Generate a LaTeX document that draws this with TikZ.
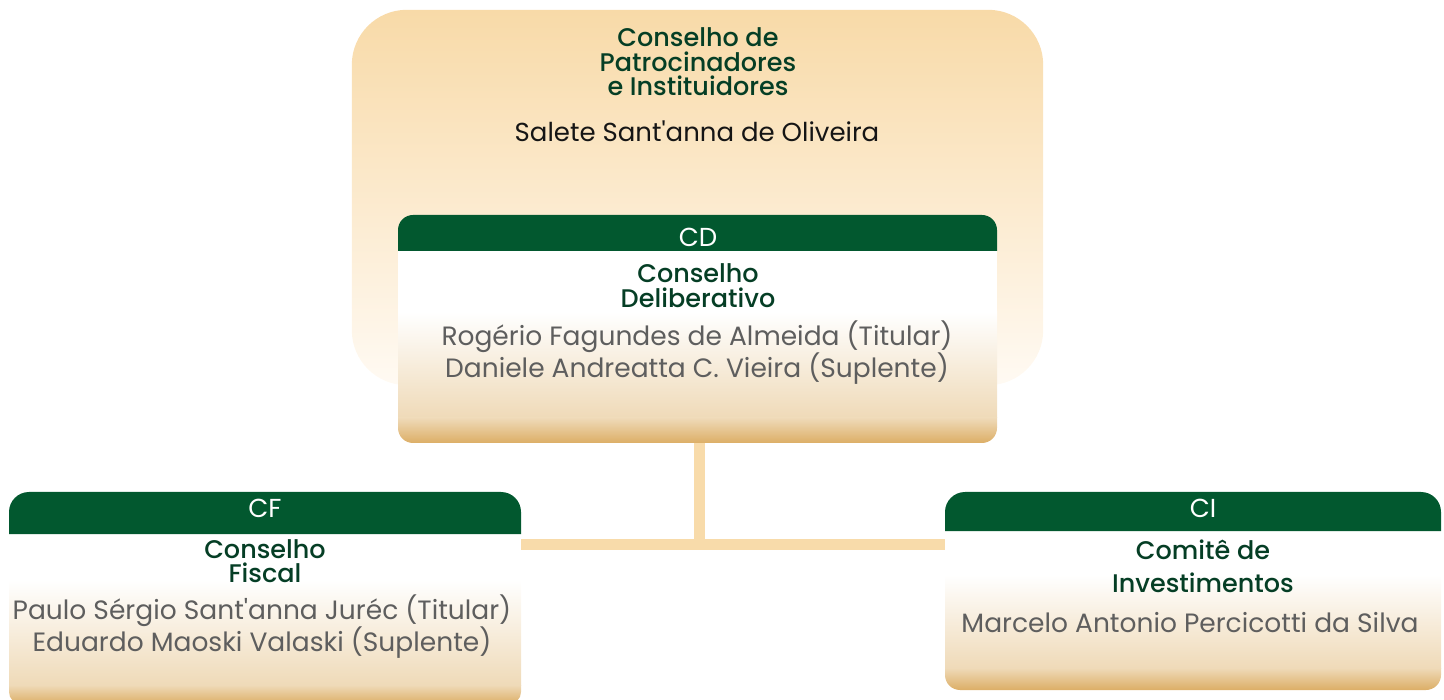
\documentclass[tikz,border=0pt]{standalone}
\usepackage{fontspec}
\setmainfont{Poppins}
\newfontfamily\medfont{Poppins Medium}
\newfontfamily\aposfont{Poppins}[Ligatures=TeXOff]
\newcommand{\apos}{{\aposfont'}}
\definecolor{hdr}{HTML}{02582F}
\definecolor{ttl}{HTML}{053E25}
\definecolor{nm}{HTML}{5E5E5E}
\definecolor{blk}{HTML}{151515}
\definecolor{peach}{HTML}{F8DAA8}
\definecolor{peachW}{HTML}{FFFAF3}
\definecolor{tanL}{HTML}{EFDAB8}
\definecolor{tanD}{HTML}{DCAE66}
\definecolor{linkc}{HTML}{F8DBAA}
\begin{document}
\begin{tikzpicture}[x=1pt,y=1pt,
  frame/.style={draw=none,inner sep=0pt,rectangle},
  hdrtxt/.style={text=white,font=\fontsize{26}{26}\selectfont,inner sep=0pt},
  ttltxt/.style={text=ttl,font=\fontsize{25.5}{24.5}\selectfont\medfont,align=center,inner sep=0pt},
  nmtxt/.style={text=nm,font=\fontsize{26.5}{32}\selectfont,align=center,inner sep=0pt},
  link/.style={draw=linkc,line width=11pt}]
\useasboundingbox (0,0) rectangle (1444,-700);
% frames (named)
\node[frame,minimum width=691,minimum height=375] (cpi) at (697.5,-197.5) {};
\node[frame,minimum width=599,minimum height=228] (cd) at (697.5,-329) {};
\node[frame,minimum width=512,minimum height=212] (cf) at (265,-598) {};
\node[frame,minimum width=496,minimum height=198] (ci) at (1193,-591) {};
% top box
\shade[top color=peach,bottom color=peachW,rounded corners=55] (cpi.north west) rectangle (cpi.south east);
% CD box
\begin{scope}
\clip[rounded corners=15] (398,-235) rectangle (997,-443);
\fill[white] (398,-235) rectangle (997,-312);
\shade[top color=white,bottom color=tanL] (398,-312) rectangle (997,-418);
\shade[top color=tanL,bottom color=tanD] (398,-418) rectangle (997,-443);
\end{scope}
\fill[hdr] (398,-251) [rounded corners=15] -- (398,-215) -- (997,-215) [sharp corners] -- (997,-251) -- cycle;
% CF box
\begin{scope}
\clip[rounded corners=12] (9,-505) rectangle (521,-704);
\fill[white] (9,-505) rectangle (521,-580);
\shade[top color=white,bottom color=tanL] (9,-580) rectangle (521,-685);
\shade[top color=tanL,bottom color=tanD] (9,-685) rectangle (521,-704);
\end{scope}
\fill[hdr] (9,-534) [rounded corners=20] -- (9,-492) -- (521,-492) [sharp corners] -- (521,-534) -- cycle;
% CI box
\begin{scope}
\clip[rounded corners=15] (945,-505) rectangle (1441,-690);
\fill[white] (945,-505) rectangle (1441,-575);
\shade[top color=white,bottom color=tanL] (945,-575) rectangle (1441,-668);
\shade[top color=tanL,bottom color=tanD] (945,-668) rectangle (1441,-690);
\end{scope}
\fill[hdr] (945,-531) [rounded corners=20] -- (945,-492) -- (1441,-492) [sharp corners] -- (1441,-531) -- cycle;
% connectors
\coordinate (j) at (699,-544);
\draw[link] (cd.south -| j) -- ([yshift=-5.5pt]j);
\draw[link] (j -| cf.east) -- (j -| ci.west);
% texts
\node[ttltxt] (cpit) at (698,-62) {Conselho de\\Patrocinadores\\e Instituidores};
\node[nmtxt,text=blk,font=\fontsize{26}{32}\selectfont] (cpin) at (697,-131) {Salete Sant\apos anna de Oliveira};
\node[hdrtxt] (cdh) at (698,-237) {CD};
\node[ttltxt] (cdt) at (698,-285.5) {Conselho\\Deliberativo};
\node[nmtxt] (cdn) at (697,-353) {Rogério Fagundes de Almeida (Titular)\\Daniele Andreatta C. Vieira (Suplente)};
\node[hdrtxt] (cfh) at (265,-508) {CF};
\node[ttltxt] (cft) at (265,-561) {Conselho\\Fiscal};
\node[nmtxt] (cfn) at (262,-626.5) {Paulo Sérgio Sant\apos anna Juréc (Titular)\\Eduardo Maoski Valaski (Suplente)};
\node[hdrtxt] (cih) at (1203,-508) {CI};
\node[ttltxt,font=\fontsize{25.5}{33}\selectfont\medfont] (cit) at (1203,-566.5) {Comitê de\\Investimentos};
\node[nmtxt] (cin) at (1190,-623) {Marcelo Antonio Percicotti da Silva};
\end{tikzpicture}
\end{document}
